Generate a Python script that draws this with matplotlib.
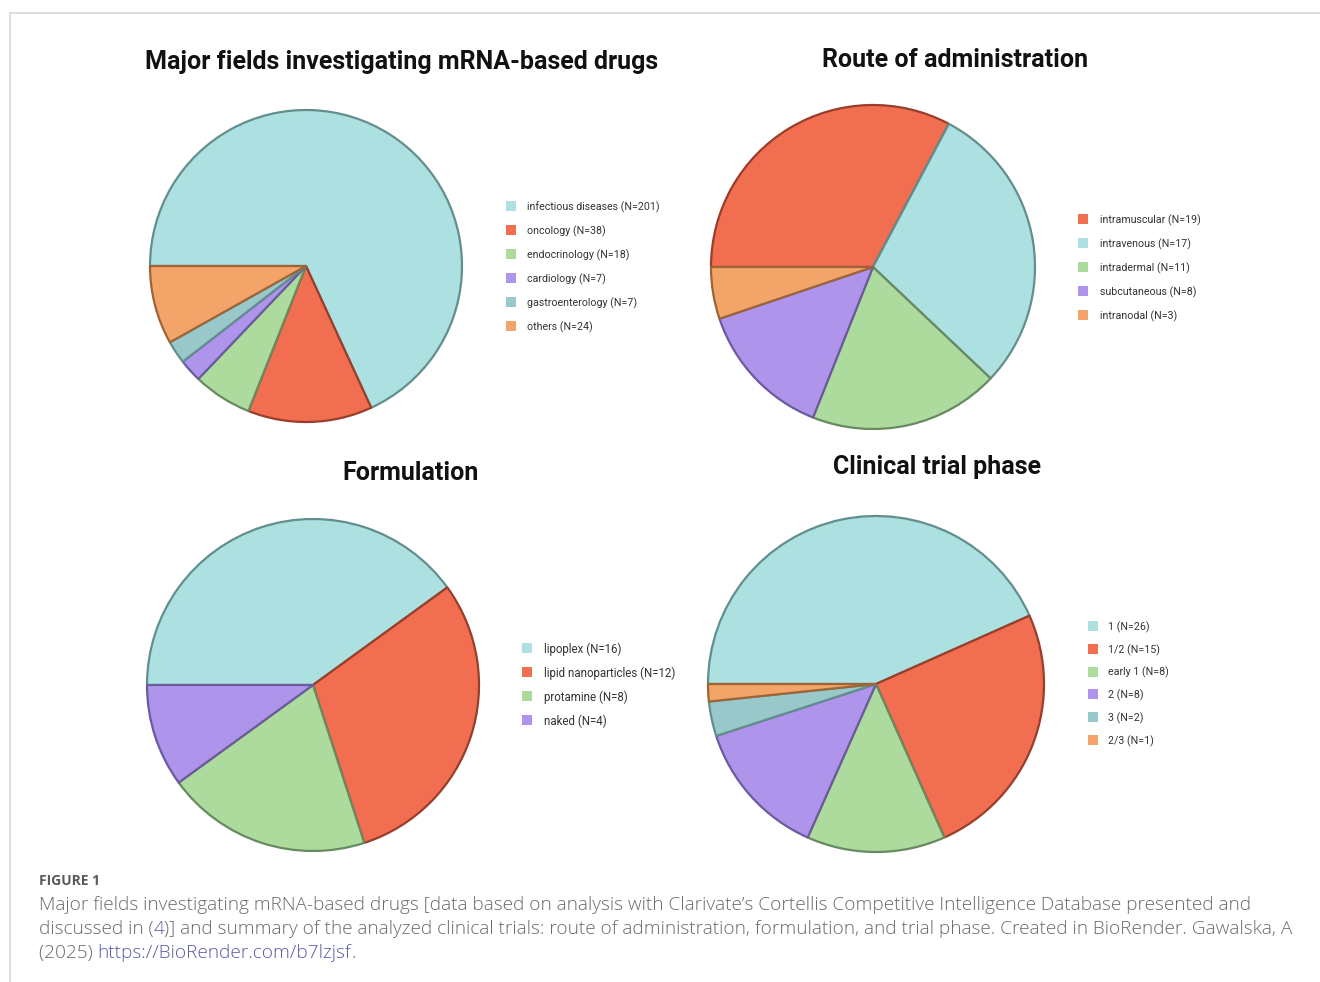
import matplotlib
matplotlib.use("Agg")
import matplotlib.pyplot as plt
from matplotlib.patches import Rectangle
from matplotlib.lines import Line2D

W, H = 1320, 982
DPI = 100

# ---------------- data ----------------
fields_labels = ["infectious diseases", "oncology", "endocrinology", "cardiology",
                 "gastroenterology", "others"]
fields_values = [201, 38, 18, 7, 7, 24]

route_labels = ["intramuscular", "intravenous", "intradermal", "subcutaneous", "intranodal"]
route_values = [19, 17, 11, 8, 3]

form_labels = ["lipoplex", "lipid nanoparticles", "protamine", "naked"]
form_values = [16, 12, 8, 4]

phase_labels = ["1", "1/2", "early 1", "2", "3", "2/3"]
phase_values = [26, 15, 8, 8, 2, 1]

titles = ["Major fields investigating mRNA-based drugs", "Route of administration",
          "Formulation", "Clinical trial phase"]

# colours
C_CYAN, C_RED, C_GREEN, C_PURPLE, C_TEAL, C_ORANGE = (
    "#ADE0E0", "#F26E50", "#ADDA9D", "#AE95EB", "#98C8CA", "#F2A469")
E_CYAN, E_RED, E_GREEN, E_PURPLE, E_TEAL, E_ORANGE = (
    "#628F8D", "#983E2A", "#688A60", "#6C5A9E", "#628F8D", "#9E6436")

fields_colors = [C_CYAN, C_RED, C_GREEN, C_PURPLE, C_TEAL, C_ORANGE]
fields_edges = [E_CYAN, E_RED, E_GREEN, E_PURPLE, E_TEAL, E_ORANGE]
route_colors = [C_RED, C_CYAN, C_GREEN, C_PURPLE, C_ORANGE]
route_edges = [E_RED, E_CYAN, E_GREEN, E_PURPLE, E_ORANGE]
form_colors = [C_CYAN, C_RED, C_GREEN, C_PURPLE]
form_edges = [E_CYAN, E_RED, E_GREEN, E_PURPLE]
phase_colors = [C_CYAN, C_RED, C_GREEN, C_PURPLE, C_TEAL, C_ORANGE]
phase_edges = [E_CYAN, E_RED, E_GREEN, E_PURPLE, E_TEAL, E_ORANGE]

fig = plt.figure(figsize=(W / DPI, H / DPI), dpi=DPI)
fig.patch.set_facecolor("white")


def fx(x):
    return x / W


def fy(y):
    return 1 - y / H


# frame lines (top and left)
fig.add_artist(Line2D([fx(10), fx(1320)], [fy(13), fy(13)], color="#d8d8d8", lw=1.2))
fig.add_artist(Line2D([fx(10), fx(10)], [fy(13), fy(982)], color="#d8d8d8", lw=1.2))


def draw_pie(cx, cy, r, values, colors, edges):
    ax = fig.add_axes([fx(cx - r), fy(cy + r), 2 * r / W, 2 * r / H])
    wedges, _ = ax.pie(values, colors=colors, startangle=180, counterclock=False,
                       wedgeprops=dict(linewidth=1.6, joinstyle="round"))
    for w, ec in zip(wedges, edges):
        w.set_edgecolor(ec)
        w.set_clip_on(False)
    ax.set_xlim(-1, 1)
    ax.set_ylim(-1, 1)
    ax.set_aspect("equal")
    ax.axis("off")
    return ax


def draw_legend(sx, tx, ys, labels, values, colors, size=7.7):
    for y, lab, v, c in zip(ys, labels, values, colors):
        fig.add_artist(Rectangle((fx(sx), fy(y + 5)), 10 / W, 10 / H,
                                 facecolor=c, edgecolor="none"))
        fig.text(fx(tx), fy(y + 1), f"{lab} (N={v})", fontsize=size, family="Roboto",
                 color="#333333", va="center", ha="left")


draw_pie(306, 266, 156, fields_values, fields_colors, fields_edges)
draw_pie(873, 267, 162, route_values, route_colors, route_edges)
draw_pie(313, 685, 166, form_values, form_colors, form_edges)
draw_pie(876, 684, 168, phase_values, phase_colors, phase_edges)

title_pos = [(402, 62), (955, 60), (411, 473), (937, 467)]
for t, (x, y) in zip(titles, title_pos):
    fig.text(fx(x), fy(y), t, fontsize=18, family="Roboto", fontweight="bold",
             color="#111111", ha="center", va="center")

draw_legend(506, 527, [206 + 24 * i for i in range(6)], fields_labels, fields_values, fields_colors)
draw_legend(1078, 1100, [219 + 24 * i for i in range(5)], route_labels, route_values, route_colors)
draw_legend(522, 544, [648 + 24 * i for i in range(4)], form_labels, form_values, form_colors, size=8.3)
draw_legend(1088, 1108, [626 + 22.8 * i for i in range(6)], phase_labels, phase_values, phase_colors)

# caption
CAP_FONT = "Open Sans"
CAP_COL = "#6a6a6a"
LINK_COL = "#5a5aa8"
fig.text(fx(39), fy(881), "FIGURE 1", fontsize=10, family=CAP_FONT, fontweight="bold",
         color="#5a5a5a", va="center", ha="left")

cap_lines = [
    [("Major fields investigating mRNA-based drugs [data based on analysis with Clarivate\u2019s "
      "Cortellis Competitive Intelligence Database presented and", CAP_COL)],
    [("discussed in (", CAP_COL), ("4", LINK_COL),
     (")] and summary of the analyzed clinical trials: route of administration, formulation, "
      "and trial phase. Created in BioRender. Gawalska, A", CAP_COL)],
    [("(2025) ", CAP_COL), ("https://BioRender.com/b7lzjsf", LINK_COL), (".", CAP_COL)],
]
cap_y = [905, 929, 953]
renderer = fig.canvas.get_renderer()
for line, y in zip(cap_lines, cap_y):
    x = 39
    for txt, col in line:
        t = fig.text(fx(x), fy(y), txt, fontsize=13.7, family=CAP_FONT, fontweight="light",
                     color=col, va="center", ha="left")
        bb = t.get_window_extent(renderer=renderer)
        x += bb.width

fig.savefig("out.png", dpi=DPI, facecolor="white")
